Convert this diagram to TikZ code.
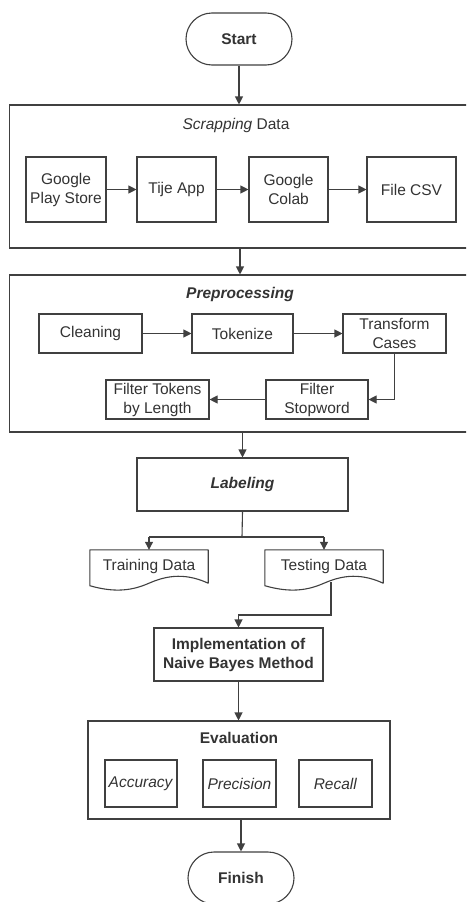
\documentclass[tikz,border=0pt]{standalone}
\usepackage{fontspec}
\setmainfont{Liberation Sans}
\usetikzlibrary{arrows.meta,calc}
\definecolor{ln}{HTML}{404040}
\definecolor{tx}{HTML}{333333}
\tikzset{
  every node/.style={font=\fontsize{15.5}{19}\selectfont, text=tx},
  box/.style={draw=ln, line width=1.1pt, rectangle, inner sep=1pt, align=center},
  container/.style={draw=ln, line width=1.1pt, rectangle},
  term/.style={draw=ln, line width=1.1pt, rectangle, rounded corners=26pt, minimum width=106pt, minimum height=52pt, font=\fontsize{15.5}{19}\selectfont\bfseries},
  ttl/.style={inner sep=0pt},
  arr/.style={draw=ln, line width=1.1pt, -{Triangle[length=8pt,width=8pt]}},
  lnk/.style={draw=ln, line width=1.1pt},
  docbox/.style={rectangle, minimum width=118pt, minimum height=33pt, inner sep=0pt}
}
\begin{document}
\begin{tikzpicture}[x=1pt,y=-1pt]
\useasboundingbox (0,0) rectangle (466,902);
\clip (0,0) rectangle (466,902);
\fill[white] (0,0) rectangle (466,902);

% Start
\node[term] (start) at (239,39) {Start};

% Scrapping Data
\node[container, minimum width=461pt, minimum height=143pt] (scrap) at (239.75,176.5) {};
\node[ttl] (scrapt) at (236,125) {\textit{Scrapping} Data};
\node[box, minimum width=80pt, minimum height=65pt] (gps) at (66,189.5) {Google\\Play Store};
\node[box, minimum width=79pt, minimum height=65pt] (tije) at (176.5,189.5) {Tije App};
\node[box, minimum width=79pt, minimum height=65pt] (colab) at (288.5,189.5) {Google\\Colab};
\node[box, minimum width=89pt, minimum height=65pt] (csv) at (411.5,189.5) {File CSV};
\draw[arr] (gps) -- (tije);
\draw[arr] (tije) -- (colab);
\draw[arr] (colab) -- (csv);
\draw[arr] (start.south) -- (start.south |- scrap.north);

% Preprocessing
\node[container, minimum width=461pt, minimum height=157pt] (prep) at (239.75,353.5) {};
\node[ttl] (prept) at (240,294) {\textbf{\textit{Preprocessing}}};
\draw[arr] (prept |- scrap.south) -- (prept |- prep.north);
\node[box, minimum width=103pt, minimum height=39pt] (clean) at (90.5,333.5) {Cleaning};
\node[box, minimum width=101pt, minimum height=39pt] (token) at (242.5,333.5) {Tokenize};
\node[box, minimum width=103pt, minimum height=39pt] (trans) at (394.5,333.5) {Transform\\Cases};
\node[box, minimum width=102pt, minimum height=39pt] (stop) at (317,399.5) {Filter\\Stopword};
\node[box, minimum width=103pt, minimum height=39pt] (ftok) at (157.5,399.5) {Filter Tokens\\by Length};
\draw[arr] (clean) -- (token);
\draw[arr] (token) -- (trans);
\draw[arr] (trans.south) |- (stop.east);
\draw[arr] (stop) -- (ftok);

% Labeling
\node[box, minimum width=211pt, minimum height=53pt] (label) at (242.5,484.5) {\textbf{\textit{Labeling}}};
\draw[arr] (label.north |- prep.south) -- (label.north);

% Documents
\node[docbox] (train) at (149,566.5) {Training Data\\[4pt]};
\node[docbox] (test) at (324,566.5) {Testing Data\\[4pt]};
\foreach \d in {train,test}{
  \draw[ln, line width=1.1pt, line join=round]
    (\d.north west) -- (\d.north east) -- (\d.south east)
    .. controls ($(\d.south east)+(-26,-12)$) and ($(\d.south)+(14,-6)$) .. ($(\d.south)+(0,0)$)
    .. controls ($(\d.south)+(-16,7)$) and ($(\d.south west)+(26,10)$) .. ($(\d.south west)+(0,2.5)$)
    -- cycle;
}
\coordinate (split) at (242,537);
\draw[lnk] (label.south) -- (split);
\draw[lnk] (train.north |- split) -- (test.north |- split);
\draw[arr] (train.north |- split) -- (train.north);
\draw[arr] (test.north |- split) -- (test.north);

% Implementation
\node[box, minimum width=169pt, minimum height=53pt, font=\fontsize{15.5}{19}\selectfont\bfseries] (impl) at (238.5,654.5) {Implementation of\\Naive Bayes Method};
\coordinate (tb) at (331,582);
\draw[arr] (tb) -- (331,615) -| (impl.north);

% Evaluation
\node[container, minimum width=302pt, minimum height=98pt] (eval) at (239,770) {};
\node[ttl, font=\fontsize{15.5}{19}\selectfont\bfseries] (evalt) at (239,738) {Evaluation};
\draw[arr] (impl.south) -- (impl.south |- eval.north);
\node[box, minimum width=72pt, minimum height=47pt] (acc) at (141,783.5) {\textit{Accuracy}};
\node[box, minimum width=73pt, minimum height=47pt] (prec) at (239.5,783.5) {\textit{Precision}};
\node[box, minimum width=73pt, minimum height=47pt] (rec) at (335.5,783.5) {\textit{Recall}};

% Finish
\node[term] (finish) at (241,878) {Finish};
\draw[arr] (finish.north |- eval.south) -- (finish.north);
\end{tikzpicture}
\end{document}
